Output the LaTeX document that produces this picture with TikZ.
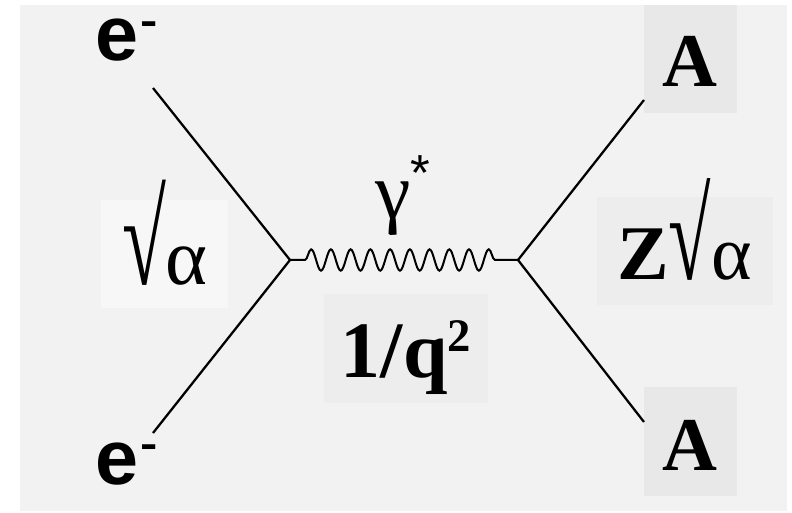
\documentclass[tikz,border=0pt]{standalone}
\usepackage{fontspec}
\setmainfont{Liberation Serif}
\newfontfamily\arialfont{Liberation Sans}
\usetikzlibrary{decorations.pathmorphing}
\newcommand{\bigfont}[1]{\fontsize{#1}{#1}\selectfont}
\newcommand{\tallroot}{\scalebox{1}[1.65]{√}}
\newcommand{\supminus}{\raisebox{20pt}{\scalebox{1.3}[1]{\bigfont{30pt}-}}}

\begin{document}
\begin{tikzpicture}[x=0.75pt, y=-0.75pt,
  fermion/.style={line width=1.7pt},
  photon/.style={line width=1.5pt, decorate,
    decoration={snake, amplitude=8pt, segment length=14.8pt,
      pre length=11.25pt, post length=12pt}},
  lbl/.style={anchor=base, inner sep=0pt}]
  \useasboundingbox (0,0) rectangle (792,513);
  \fill[black!5] (20,5) rectangle (787,511);
  \fill[black!3] (101,200) rectangle (228,308);
  \fill[black!7] (324,294) rectangle (488,403);
  \fill[black!7] (597,197) rectangle (773,305);
  \fill[black!9] (644,5) rectangle (737,113);
  \fill[black!9] (644,387) rectangle (737,496);
  \coordinate (vl) at (290,260);
  \coordinate (vr) at (518,260);
  \coordinate (ein) at (153,88);
  \coordinate (eout) at (153,433);
  \coordinate (ain) at (644,100);
  \coordinate (aout) at (644,422);
  \draw[fermion] (ein) -- (vl) -- (eout);
  \draw[fermion] (ain) -- (vr) -- (aout);
  \draw[photon] (vl) -- (vr);
  \node[lbl, anchor=base west] (etop) at (95,61)
    {\arialfont\bfseries\bigfont{58pt}e\kern2pt\supminus};
  \node[lbl, anchor=base west] (ebot) at (95,484)
    {\arialfont\bfseries\bigfont{58pt}e\kern2pt\supminus};
  \node[lbl, anchor=base west] (gam) at (375,219)
    {\bigfont{60pt}γ\kern0pt\raisebox{21pt}{\arialfont\bigfont{38pt}*}};
  \node[lbl] (lcoup) at (165,284) {\bigfont{60pt}\tallroot α};
  \node[lbl, anchor=base west] (rcoup) at (617,280)
    {\bigfont{58pt}\textbf{Z}\tallroot α};
  \node[lbl] (prop) at (406,377)
    {\bfseries\bigfont{60pt}1/q\raisebox{19pt}{\bigfont{35pt}2}};
  \node[lbl] (atop) at (690,87) {\bfseries\bigfont{57pt}A};
  \node[lbl] (abot) at (690,470) {\bfseries\bigfont{57pt}A};
\end{tikzpicture}
\end{document}
